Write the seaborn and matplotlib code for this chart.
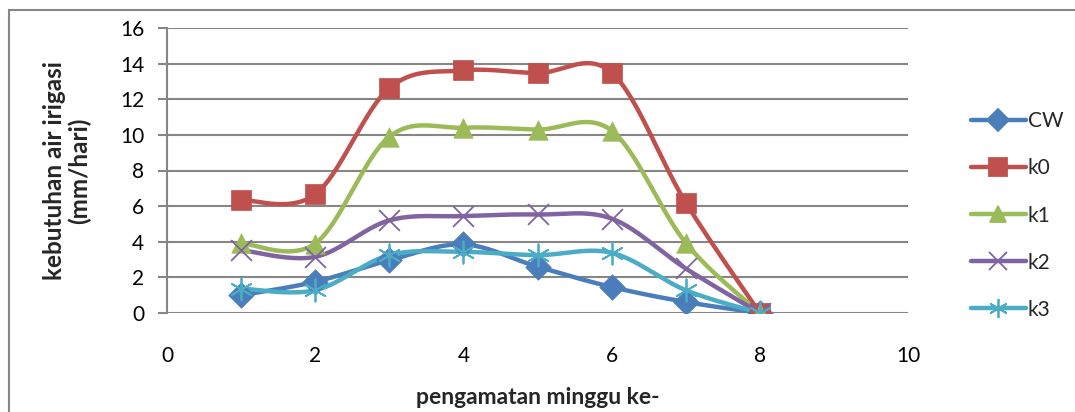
import numpy as np
import pandas as pd
import matplotlib
matplotlib.use("Agg")
import matplotlib.pyplot as plt
from matplotlib.lines import Line2D
from matplotlib.patches import Rectangle
import seaborn as sns

# Weekly irrigation water requirement (mm/day)
weeks = [1, 2, 3, 4, 5, 6, 7, 8]
cw = [1.0, 1.75, 2.96, 3.85, 2.6, 1.46, 0.62, 0.0]
k0 = [6.34, 6.66, 12.63, 13.62, 13.47, 13.5, 6.2, 0.0]
k1 = [3.92, 3.9, 9.9, 10.4, 10.3, 10.24, 3.94, 0.0]
k2 = [3.53, 3.15, 5.2, 5.44, 5.53, 5.3, 2.5, 0.0]
k3 = [1.37, 1.28, 3.25, 3.43, 3.25, 3.38, 1.28, 0.0]

series_names = ["CW", "k0", "k1", "k2", "k3"]
series_values = [cw, k0, k1, k2, k3]
colors = ["#4A7EBB", "#C0504D", "#9BBB59", "#8064A2", "#4BACC6"]
markers = ["D", "s", "^", "x", (6, 2, 0)]
msizes = [13, 15, 14, 15, 16]

x_ticks = [0, 2, 4, 6, 8, 10]
y_ticks = [0, 2, 4, 6, 8, 10, 12, 14, 16]


def smooth_curve(xs, ys, n=40):
    """Bezier smoothing through every point (Catmull-Rom style)."""
    p = np.column_stack([xs, ys]).astype(float)
    ext = np.vstack([p[0], p, p[-1]])
    out = []
    t = np.linspace(0, 1, n)[:, None]
    for i in range(len(p) - 1):
        p0, p1 = ext[i + 1], ext[i + 2]
        c1 = p0 + (ext[i + 2] - ext[i]) / 6.0
        c2 = p1 - (ext[i + 3] - ext[i + 1]) / 6.0
        seg = ((1 - t) ** 3) * p0 + 3 * ((1 - t) ** 2) * t * c1 + 3 * (1 - t) * t ** 2 * c2 + t ** 3 * p1
        out.append(seg if i == 0 else seg[1:])
    c = np.vstack(out)
    return c[:, 0], c[:, 1]


sns.set_theme(style="white")
plt.rcParams["font.family"] = ["Lato", "DejaVu Sans"]

W, H = 1075, 412
fig = plt.figure(figsize=(W / 100, H / 100), dpi=100)
ax_left, ax_right, ax_top, ax_bottom = 167, 908, 28, 313
ax = fig.add_axes([ax_left / W, 1 - ax_bottom / H, (ax_right - ax_left) / W, (ax_bottom - ax_top) / H])

# chart area border
fig.patches.append(Rectangle((9 / W, -0.1), 1.2, 1 - 10 / H + 0.1, transform=fig.transFigure,
                             fill=False, edgecolor="#868686", linewidth=1.5, zorder=0))

for name, vals, col, mk, ms in zip(series_names, series_values, colors, markers, msizes):
    sx, sy = smooth_curve(weeks, vals)
    curve = pd.DataFrame({"x": sx, "y": sy})
    sns.lineplot(data=curve, x="x", y="y", sort=False, estimator=None, color=col,
                 linewidth=3.2, ax=ax, zorder=3)
    pts = pd.DataFrame({"x": weeks, "y": vals})
    if mk in ("D", "s", "^"):
        sns.scatterplot(data=pts, x="x", y="y", marker=mk, s=ms ** 2, color=col,
                        edgecolor=col, linewidth=0.5, ax=ax, zorder=4)
    else:
        ax.scatter(pts["x"], pts["y"], marker=mk, s=ms ** 2, color=col, linewidths=1.3, zorder=4)

ax.set_xlim(0, 10)
ax.set_ylim(0, 16)
ax.set_xticks(x_ticks)
ax.set_yticks(y_ticks)
ax.set_xticklabels([str(v) for v in x_ticks], fontsize=15)
ax.set_yticklabels([str(v) for v in y_ticks], fontsize=15)
ax.grid(axis="y", color="#868686", linewidth=1.5)
ax.grid(axis="x", visible=False)
for s in ["top", "right", "bottom"]:
    ax.spines[s].set_visible(False)
ax.spines["left"].set_color("#868686")
ax.spines["left"].set_linewidth(1.5)
ax.tick_params(axis="y", which="major", direction="out", length=6.5, width=1.5, color="#868686",
               left=True, pad=10, labelcolor="black")
ax.tick_params(axis="x", bottom=False, pad=18, labelcolor="black")

span_h = ax_bottom - ax_top
span_w = ax_right - ax_left
ax.set_xlabel("pengamatan minggu ke-", fontsize=16.5, fontweight="bold")
ax.xaxis.label.set_va("center")
ax.xaxis.set_label_coords(0.5, (ax_bottom - 398) / span_h)

ax.set_ylabel("kebutuhan air irigasi\n(mm/hari)", fontsize=17.5, fontweight="bold", linespacing=1.1)
ax.yaxis.label.set_va("center")
ax.yaxis.set_label_coords((67 - ax_left) / span_w, 0.5)

handles = [Line2D([0], [0], color=c, linewidth=3.2, marker=m, markersize=ms * 0.85,
                  markeredgewidth=1.3, markeredgecolor=c, markerfacecolor=c)
           for c, m, ms in zip(colors, markers, msizes)]
fig.legend(handles, series_names, loc="upper left", bbox_to_anchor=(963 / W, 1 - 103 / H),
           frameon=False, fontsize=15, handlelength=2.6, handletextpad=0.1, labelspacing=1.3,
           borderaxespad=0)

fig.savefig("out.png", dpi=100)
